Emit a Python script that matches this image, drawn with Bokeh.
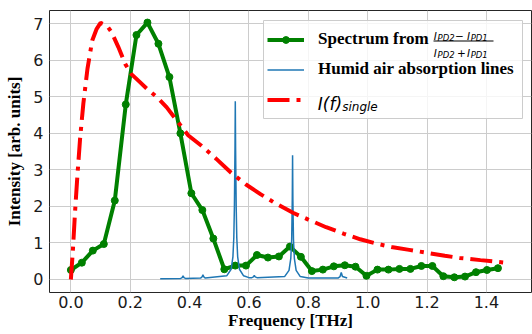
from bokeh.plotting import figure
from bokeh.models import (Range1d, FixedTicker, Legend, LegendItem, Label, BoxAnnotation,
                          LinearAxis)
from bokeh.embed import file_html
from bokeh.resources import INLINE

# ---- data ----
spec_f = [0.000, 0.037, 0.074, 0.111, 0.148, 0.185, 0.221, 0.258, 0.295, 0.332,
          0.369, 0.406, 0.443, 0.480, 0.517, 0.554, 0.590, 0.627, 0.664, 0.701,
          0.738, 0.775, 0.812, 0.849, 0.886, 0.923, 0.959, 0.996, 1.033, 1.070,
          1.107, 1.144, 1.181, 1.218, 1.255, 1.292, 1.328, 1.365, 1.402, 1.439]
spec_v = [0.26, 0.46, 0.79, 0.97, 2.16, 4.79, 6.69, 7.03, 6.45, 5.54,
          4.00, 2.36, 1.90, 1.12, 0.28, 0.38, 0.38, 0.67, 0.60, 0.63,
          0.90, 0.62, 0.23, 0.27, 0.36, 0.39, 0.35, 0.10, 0.27, 0.27,
          0.29, 0.29, 0.37, 0.37, 0.09, 0.06, 0.08, 0.20, 0.26, 0.31]

air_f = [0.301, 0.370, 0.375, 0.378, 0.381, 0.386, 0.437, 0.442, 0.445, 0.448,
         0.453, 0.525, 0.540, 0.546, 0.549, 0.551, 0.553, 0.554, 0.555, 0.557,
         0.559, 0.562, 0.568, 0.582, 0.600, 0.610, 0.615, 0.618, 0.621, 0.627,
         0.720, 0.735, 0.741, 0.744, 0.746, 0.747, 0.748, 0.750, 0.753, 0.759,
         0.773, 0.800, 0.900, 0.907, 0.911, 0.915, 0.931]
air_v = [0.02, 0.03, 0.05, 0.10, 0.05, 0.03, 0.04, 0.07, 0.13, 0.07,
         0.04, 0.10, 0.28, 0.62, 1.15, 2.00, 3.60, 4.88, 3.60, 2.00,
         1.15, 0.62, 0.28, 0.10, 0.05, 0.05, 0.07, 0.11, 0.07, 0.05,
         0.08, 0.25, 0.58, 1.10, 2.20, 3.40, 2.20, 1.10, 0.58, 0.25,
         0.08, 0.04, 0.04, 0.08, 0.19, 0.08, 0.04]

single_f = [0.000, 0.007, 0.014, 0.022, 0.031, 0.042, 0.056, 0.072, 0.087, 0.100,
            0.121, 0.137, 0.160, 0.183, 0.204, 0.230, 0.256, 0.290, 0.323, 0.357,
            0.396, 0.440, 0.490, 0.540, 0.590, 0.640, 0.690, 0.750, 0.800, 0.860,
            0.920, 0.975, 1.030, 1.085, 1.140, 1.200, 1.260, 1.310, 1.380, 1.465]
single_v = [0.00, 0.83, 1.84, 2.84, 3.85, 4.81, 5.77, 6.54, 6.86, 7.02,
            6.95, 6.77, 6.36, 5.90, 5.62, 5.42, 5.22, 4.99, 4.71, 4.35,
            3.94, 3.66, 3.30, 2.92, 2.60, 2.33, 2.08, 1.82, 1.64, 1.43,
            1.25, 1.10, 0.98, 0.88, 0.81, 0.73, 0.65, 0.59, 0.53, 0.46]

x_ticks = [0.0, 0.2, 0.4, 0.6, 0.8, 1.0, 1.2, 1.4]
x_tick_labels = ["0.0", "0.2", "0.4", "0.6", "0.8", "1.0", "1.2", "1.4"]
y_ticks = [0, 1, 2, 3, 4, 5, 6, 7]
y_tick_labels = ["0", "1", "2", "3", "4", "5", "6", "7"]

x_label = "Frequency [THz]"
y_label = "Intensity [arb. units]"
legend_labels = ["Spectrum from", "Humid air absorption lines"]

# ---- figure ----
W, H = 532, 334
BL, BR, BT, BB = 49, 1, 10, 42
p = figure(width=W, height=H, output_backend="svg", toolbar_location=None,
           x_range=Range1d(-0.072, 1.552), y_range=Range1d(-0.356, 7.36),
           min_border_left=BL, min_border_right=BR, min_border_top=BT,
           min_border_bottom=BB, background_fill_color="white",
           border_fill_color="white")

p.outline_line_color = "#262626"
p.outline_line_width = 1

p.xaxis.ticker = FixedTicker(ticks=x_ticks)
p.yaxis.ticker = FixedTicker(ticks=y_ticks)
p.xaxis.major_label_overrides = dict(zip(x_ticks, x_tick_labels))
p.yaxis.major_label_overrides = dict(zip(y_ticks, y_tick_labels))
p.xaxis.axis_label = x_label
p.yaxis.axis_label = y_label
for ax in (p.xaxis, p.yaxis):
    ax.major_tick_out = 0
    ax.major_tick_in = 0
    ax.minor_tick_out = 0
    ax.minor_tick_in = 0
    ax.axis_line_color = None
    ax.major_label_text_font = "DejaVu Sans"
    ax.major_label_text_font_size = "16px"
    ax.major_label_text_color = "#1a1a1a"
    ax.axis_label_text_font = "Liberation Serif"
    ax.axis_label_text_font_style = "bold"
    ax.axis_label_text_font_size = "17px"
    ax.axis_label_text_color = "black"
p.xaxis.major_label_standoff = 3
p.yaxis.major_label_standoff = 6
p.xaxis.axis_label_standoff = 0
p.yaxis.axis_label_standoff = 6

# blank outer spacer on the left so the left border is filled exactly
spacer = LinearAxis(ticker=FixedTicker(ticks=[]), axis_line_color=None,
                    major_tick_out=8, major_tick_in=0, minor_tick_out=0,
                    minor_tick_in=0, major_tick_line_alpha=0,
                    major_label_standoff=0)
p.add_layout(spacer, "left")

p.xgrid.ticker = FixedTicker(ticks=x_ticks)
p.ygrid.ticker = FixedTicker(ticks=y_ticks)
for g in (p.xgrid, p.ygrid):
    g.grid_line_color = "#cccccc"
    g.grid_line_width = 1

# ---- series ----
g_line = p.line(spec_f, spec_v, line_color="green", line_width=4)
g_pts = p.scatter(spec_f, spec_v, size=7, fill_color="green", line_color="green")
b_line = p.line(air_f, air_v, line_color="#1f77b4", line_width=1.5)
r_line = p.line(single_f, single_v, line_color="red", line_width=4,
                line_dash="22 7 4 7")

FL, FB = BL, H - BB  # frame left / bottom in canvas pixels


def sx(px):
    return px - FL


def sy(py):
    return FB - py


# ---- legend ----
# legend frame drawn separately (white, 80 % opaque, light grey border)
p.add_layout(BoxAnnotation(left=sx(263), right=sx(522), bottom=sy(118), top=sy(20),
                           left_units="screen", right_units="screen",
                           bottom_units="screen", top_units="screen",
                           fill_color="white", fill_alpha=0.8,
                           line_color="#cccccc", line_width=1, line_alpha=1))

legend = Legend(items=[LegendItem(label=legend_labels[0], renderers=[g_line, g_pts]),
                       LegendItem(label=legend_labels[1], renderers=[b_line]),
                       LegendItem(label=" ", renderers=[r_line])],
                location=(sx(267), sy(113.3)), margin=0, padding=0, spacing=2,
                glyph_width=37, glyph_height=17, label_height=28, label_width=199,
                label_standoff=14,
                label_text_font="Liberation Serif", label_text_font_style="bold",
                label_text_font_size="17px", label_text_color="black",
                border_line_color=None, background_fill_alpha=0)
p.add_layout(legend)

# fraction (I_PD2 - I_PD1)/(I_PD2 + I_PD1)
frac_parts = [("I", 433.3, 35.5, "10.5px"), ("PD2", 437.0, 37.5, "8.5px"),
              ("\u2212", 454.5, 35.5, "10.5px"), ("I", 466.5, 35.5, "10.5px"),
              ("PD1", 470.2, 37.5, "8.5px"),
              ("I", 433.3, 52.0, "10.5px"), ("PD2", 437.0, 54.0, "8.5px"),
              ("+", 456.5, 52.0, "10.5px"), ("I", 466.5, 52.0, "10.5px"),
              ("PD1", 470.2, 54.0, "8.5px")]
for txt, px, py, fs in frac_parts:
    p.add_layout(Label(x=sx(px), y=sy(py), x_units="screen", y_units="screen",
                       text=txt, text_font="DejaVu Sans", text_font_style="italic",
                       text_font_size=fs, text_color="black", text_alpha=1.0,
                       text_baseline="alphabetic", text_align="left"))
p.add_layout(BoxAnnotation(left=sx(433), right=sx(493), bottom=sy(41), top=sy(40),
                           left_units="screen", right_units="screen",
                           bottom_units="screen", top_units="screen",
                           fill_color="black", fill_alpha=1, line_color=None))

# I(f)_single
p.add_layout(Label(x=sx(317.3), y=sy(103.3), x_units="screen", y_units="screen",
                   text="I(f)", text_font="DejaVu Sans", text_font_style="italic",
                   text_font_size="17px", text_color="black", text_alpha=1.0,
                   text_baseline="alphabetic", text_align="left"))
p.add_layout(Label(x=sx(341.7), y=sy(106.0), x_units="screen", y_units="screen",
                   text="single", text_font="DejaVu Sans", text_font_style="italic",
                   text_font_size="12px", text_color="black", text_alpha=1.0,
                   text_baseline="alphabetic", text_align="left"))

open("out.html", "w").write(file_html(p, INLINE))
